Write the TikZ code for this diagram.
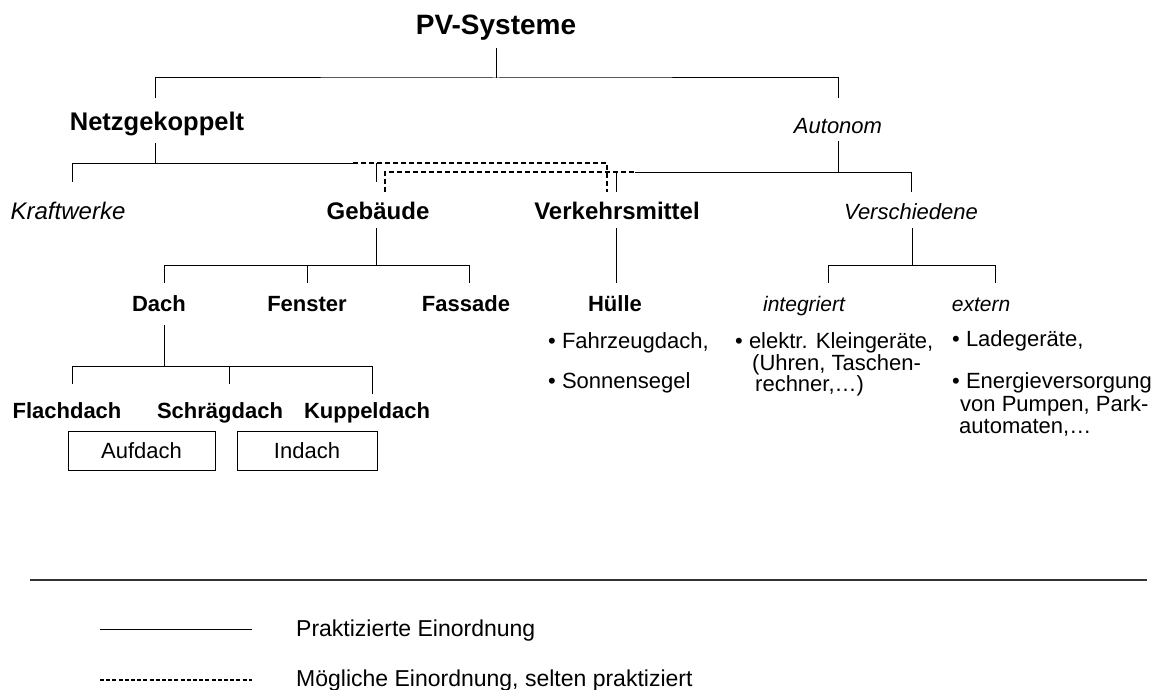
\documentclass[tikz,border=0pt]{standalone}
\usepackage{fontspec}
\setmainfont{Liberation Sans}
\begin{document}
\begin{tikzpicture}[x=1pt,y=-1pt,
  txt/.style={inner sep=0pt, anchor=base},
  ltxt/.style={inner sep=0pt, anchor=base west},
  fT/.style={font=\fontsize{28}{32}\selectfont\bfseries},
  fA/.style={font=\fontsize{24}{28}\selectfont\bfseries},
  fAi/.style={font=\fontsize{22}{26}\selectfont\itshape},
  fB/.style={font=\fontsize{22}{26}\selectfont\bfseries},
  fBi/.style={font=\fontsize{21}{25}\selectfont\itshape},
  fN/.style={font=\fontsize{22}{26}\selectfont},
  fL/.style={font=\fontsize{23}{27}\selectfont},
  conn/.style={line width=1pt, black},
  poss/.style={line width=1.6pt, black, dash pattern=on 5pt off 3pt},
  boxst/.style={draw, line width=0.8pt, minimum width=147pt, minimum height=39pt, inner sep=0pt, font=\fontsize{22}{26}\selectfont}]
\useasboundingbox (0,0) rectangle (1159,690);

% nodes
\node[txt,fT] (pv) at (496,35) {PV-Systeme};
\node[txt,fA,font=\fontsize{25.5}{29}\selectfont\bfseries] (nz) at (157,131) {Netzgekoppelt};
\node[txt,fAi] (au) at (838,134) {Autonom};
\node[txt,fAi,font=\fontsize{24}{28}\selectfont\itshape] (kw) at (68,219) {Kraftwerke};
\node[txt,fA] (geb) at (378,219) {Gebäude};
\node[txt,fA] (vm) at (617,219) {Verkehrsmittel};
\node[txt,fAi] (ver) at (911,219) {Verschiedene};
\node[txt,fB] (dach) at (159,311) {Dach};
\node[txt,fB] (fen) at (307,311) {Fenster};
\node[txt,fB] (fas) at (466,311) {Fassade};
\node[txt,fB] (hue) at (615,311) {Hülle};
\node[txt,fBi] (int) at (804,311) {integriert};
\node[txt,fBi] (ext) at (981,311) {extern};
\node[txt,fB] (flach) at (67,418) {Flachdach};
\node[txt,fB] (schr) at (220,418) {Schrägdach};
\node[txt,fB] (kup) at (367,418) {Kuppeldach};
\node[boxst] (auf) at (141.5,450.5) {Aufdach};
\node[boxst, minimum width=140pt] (ind) at (307,450.5) {Indach};

\node[ltxt,fN] (h1) at (548,348) {• Fahrzeugdach,};
\node[ltxt,fN] (h2) at (548,388) {• Sonnensegel};
\node[ltxt,fN] (i1) at (735,348) {• elektr. Kleingeräte,};
\node[ltxt,fN] (i2) at (752,370) {(Uhren, Taschen-};
\node[ltxt,fN] (i3) at (755,391) {rechner,…)};
\node[ltxt,fN] (e1) at (952,346) {• Ladegeräte,};
\node[ltxt,fN] (e2) at (952,388) {• Energieversorgung};
\node[ltxt,fN] (e3) at (960,411) {von Pumpen, Park-};
\node[ltxt,fN] (e4) at (959,433) {automaten,…};

% junction coordinates
\coordinate (pvB) at (496,48);
\coordinate (pvJ) at (496,78);
\coordinate (nzT) at (155,98);
\coordinate (auT) at (838,98);
\coordinate (nzB) at (155,143);
\coordinate (nzJ) at (155,163);
\coordinate (kwT) at (72,182);
\coordinate (nzE) at (353,163);
\coordinate (gebJ) at (376,163);
\coordinate (gebT) at (376,182);
\coordinate (vmDT) at (607,192);
\coordinate (auB) at (838,141);
\coordinate (auJ) at (838,172);
\coordinate (vmT) at (616,192);
\coordinate (vmJ) at (616,172);
\coordinate (auS) at (635,172);
\coordinate (verT) at (911,192);
\coordinate (gebDT) at (385,192);
\coordinate (gebB) at (376,228);
\coordinate (gebJ2) at (376,265);
\coordinate (dachT) at (164,283);
\coordinate (fenT) at (307,283);
\coordinate (fasT) at (469,283);
\coordinate (vmB) at (616,228);
\coordinate (hueT) at (616,283);
\coordinate (verB) at (912,228);
\coordinate (verJ) at (912,265);
\coordinate (intT) at (828,283);
\coordinate (extT) at (995,283);
\coordinate (dachB) at (164,325);
\coordinate (dachJ) at (164,366);
\coordinate (flT) at (72,384);
\coordinate (scT) at (229,384);
\coordinate (kuT) at (372,394);

% solid connectors
\draw[conn] (pvB) -- (pvJ);
\draw[conn] (nzT) |- (pvJ) -| (auT);
\draw[conn] (nzB) -- (nzJ);
\draw[conn] (kwT) |- (nzE);
\draw[conn] (gebJ) -- (gebT);
\draw[conn] (auB) -- (auJ);
\draw[conn] (vmJ) -- (vmT);
\draw[conn] (auS) -| (verT);
\draw[conn] (gebB) -- (gebJ2);
\draw[conn] (dachT) |- (fasT |- gebJ2) -- (fasT);
\draw[conn] (fenT) -- (fenT |- gebJ2);
\draw[conn] (vmB) -- (hueT);
\draw[conn] (verB) -- (verJ);
\draw[conn] (intT) |- (extT |- verJ) -- (extT);
\draw[conn] (dachB) -- (dachJ);
\draw[conn] (flT) |- (kuT |- dachJ) -- (kuT);
\draw[conn] (scT) -- (scT |- dachJ);

% dashed connectors
\draw[poss] (nzE) -| (vmDT);
\draw[poss] (gebDT) |- (auS);

% legend
\coordinate (sepL) at (30,580);
\coordinate (sepR) at (1147,580);
\draw[line width=1.8pt, black!80] (sepL) -- (sepR);
\coordinate (l1a) at (100,629);
\coordinate (l1b) at (252,629);
\coordinate (l2a) at (100,680);
\coordinate (l2b) at (252,680);
\draw[conn] (l1a) -- (l1b);
\draw[line width=1.5pt, dash pattern=on 4pt off 2.2pt] (l2a) -- (l2b);
\node[ltxt,fL] (lt1) at (296,636) {Praktizierte Einordnung};
\node[ltxt,fL] (lt2) at (296,686) {Mögliche Einordnung, selten praktiziert};
\end{tikzpicture}
\end{document}
